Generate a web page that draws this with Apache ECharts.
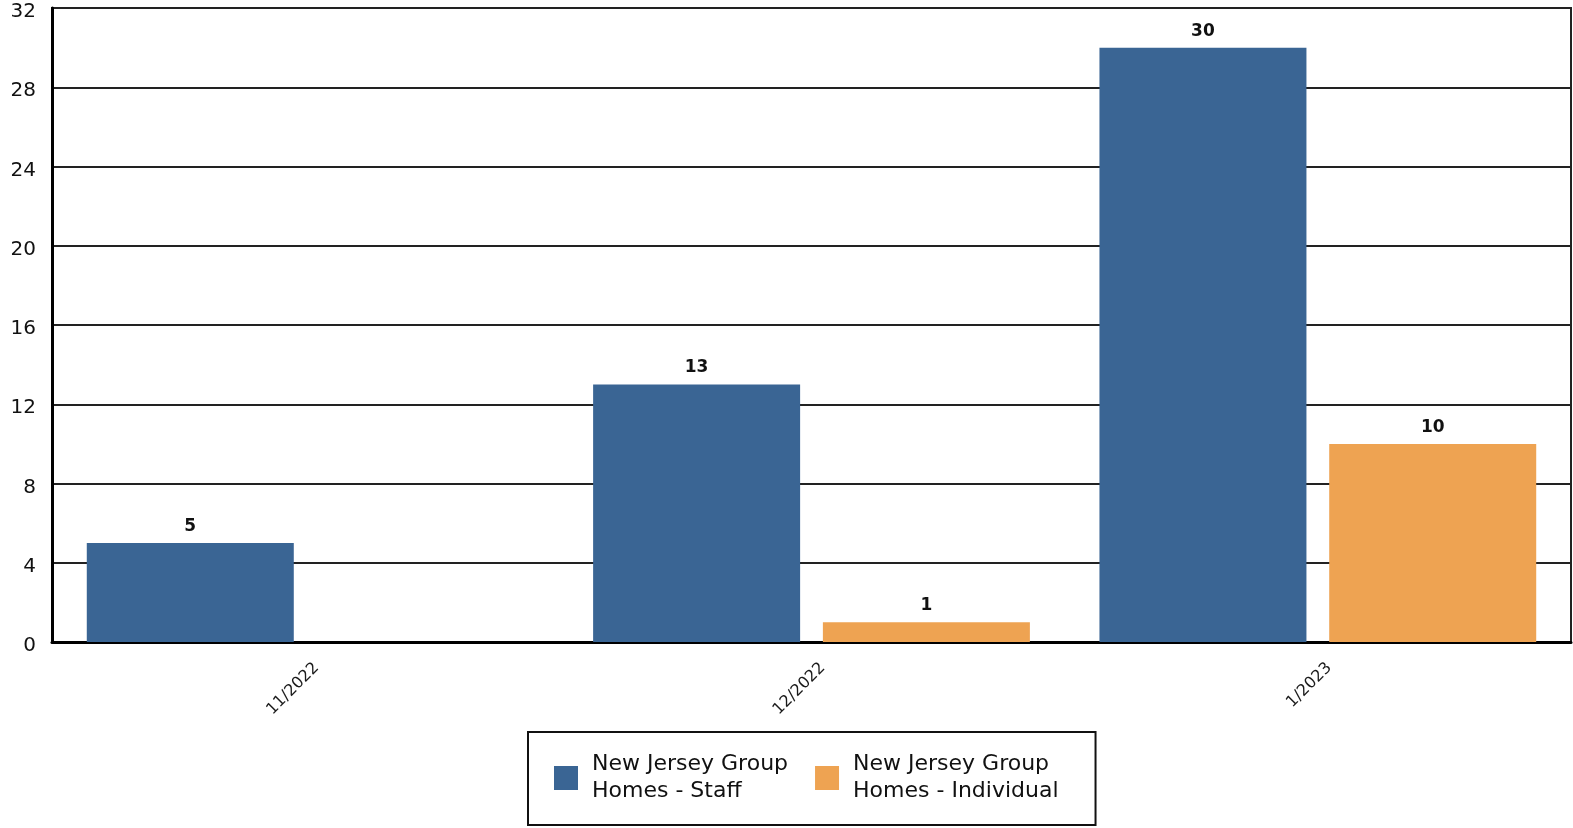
<!DOCTYPE html>
<html>
<head>
<meta charset="utf-8">
<script src="https://cdn.jsdelivr.net/npm/echarts@6/dist/echarts.min.js"></script>
<style>
  html, body { margin: 0; padding: 0; background: #fff; }
  #chart { width: 1573px; height: 828px; }
</style>
</head>
<body>
<div id="chart"></div>
<script>
// Monthly counts per group-home category
const months = ['11/2022', '12/2022', '1/2023'];
const staffCounts = [5, 13, 30];
const individualCounts = [0, 1, 10];
const seriesNames = ['New Jersey Group Homes - Staff', 'New Jersey Group Homes - Individual'];
const yTicks = { min: 0, max: 32, step: 4 };

const FONT = 'DejaVu Sans';

const chart = echarts.init(document.getElementById('chart'), null, { renderer: 'canvas' });

const valueLabel = {
  show: true,
  position: 'top',
  distance: 8,
  color: '#111',
  fontFamily: FONT,
  fontSize: 17,
  fontWeight: 'bold',
  formatter: p => (p.value ? String(p.value) : '')
};

chart.setOption({
  animation: false,
  backgroundColor: '#ffffff',
  grid: {
    left: 52, right: 2, top: 8, bottom: 186,
    show: true, borderColor: '#222', borderWidth: 2, backgroundColor: 'transparent'
  },
  legend: {
    left: 528, top: 732,
    orient: 'horizontal',
    padding: [19, 37, 20, 26],
    borderColor: '#111', borderWidth: 2,
    itemWidth: 24, itemHeight: 24, itemGap: 27,
    icon: 'rect',
    textStyle: {
      fontFamily: FONT, fontSize: 22, color: '#111', lineHeight: 27,
      padding: [0, 0, 0, 9]
    },
    formatter: name => name.replace(' Group ', ' Group\n'),
    data: seriesNames
  },
  xAxis: {
    type: 'category',
    data: months,
    axisLine: { show: true, lineStyle: { color: '#000', width: 3 } },
    axisTick: { show: false },
    axisLabel: {
      rotate: 45, margin: 12,
      verticalAlign: 'top',
      padding: [8, 0, 0, 0],
      fontFamily: FONT, fontSize: 16, color: '#1a1a1a'
    }
  },
  yAxis: {
    type: 'value',
    min: yTicks.min, max: yTicks.max, interval: yTicks.step,
    axisLine: { show: true, lineStyle: { color: '#000', width: 3 } },
    axisTick: { show: false },
    axisLabel: {
      margin: 16,
      verticalAlign: 'top', lineHeight: 8,
      fontFamily: FONT, fontSize: 20, color: '#111'
    },
    splitLine: { show: true, lineStyle: { color: '#222', width: 2 } }
  },
  series: [
    {
      name: seriesNames[0], type: 'bar', data: staffCounts,
      barWidth: 207, barGap: '11%',
      itemStyle: { color: '#3a6594' },
      label: valueLabel
    },
    {
      name: seriesNames[1], type: 'bar', data: individualCounts,
      barWidth: 207, barGap: '11%',
      itemStyle: { color: '#eea352' },
      label: valueLabel
    }
  ]
});
</script>
</body>
</html>
